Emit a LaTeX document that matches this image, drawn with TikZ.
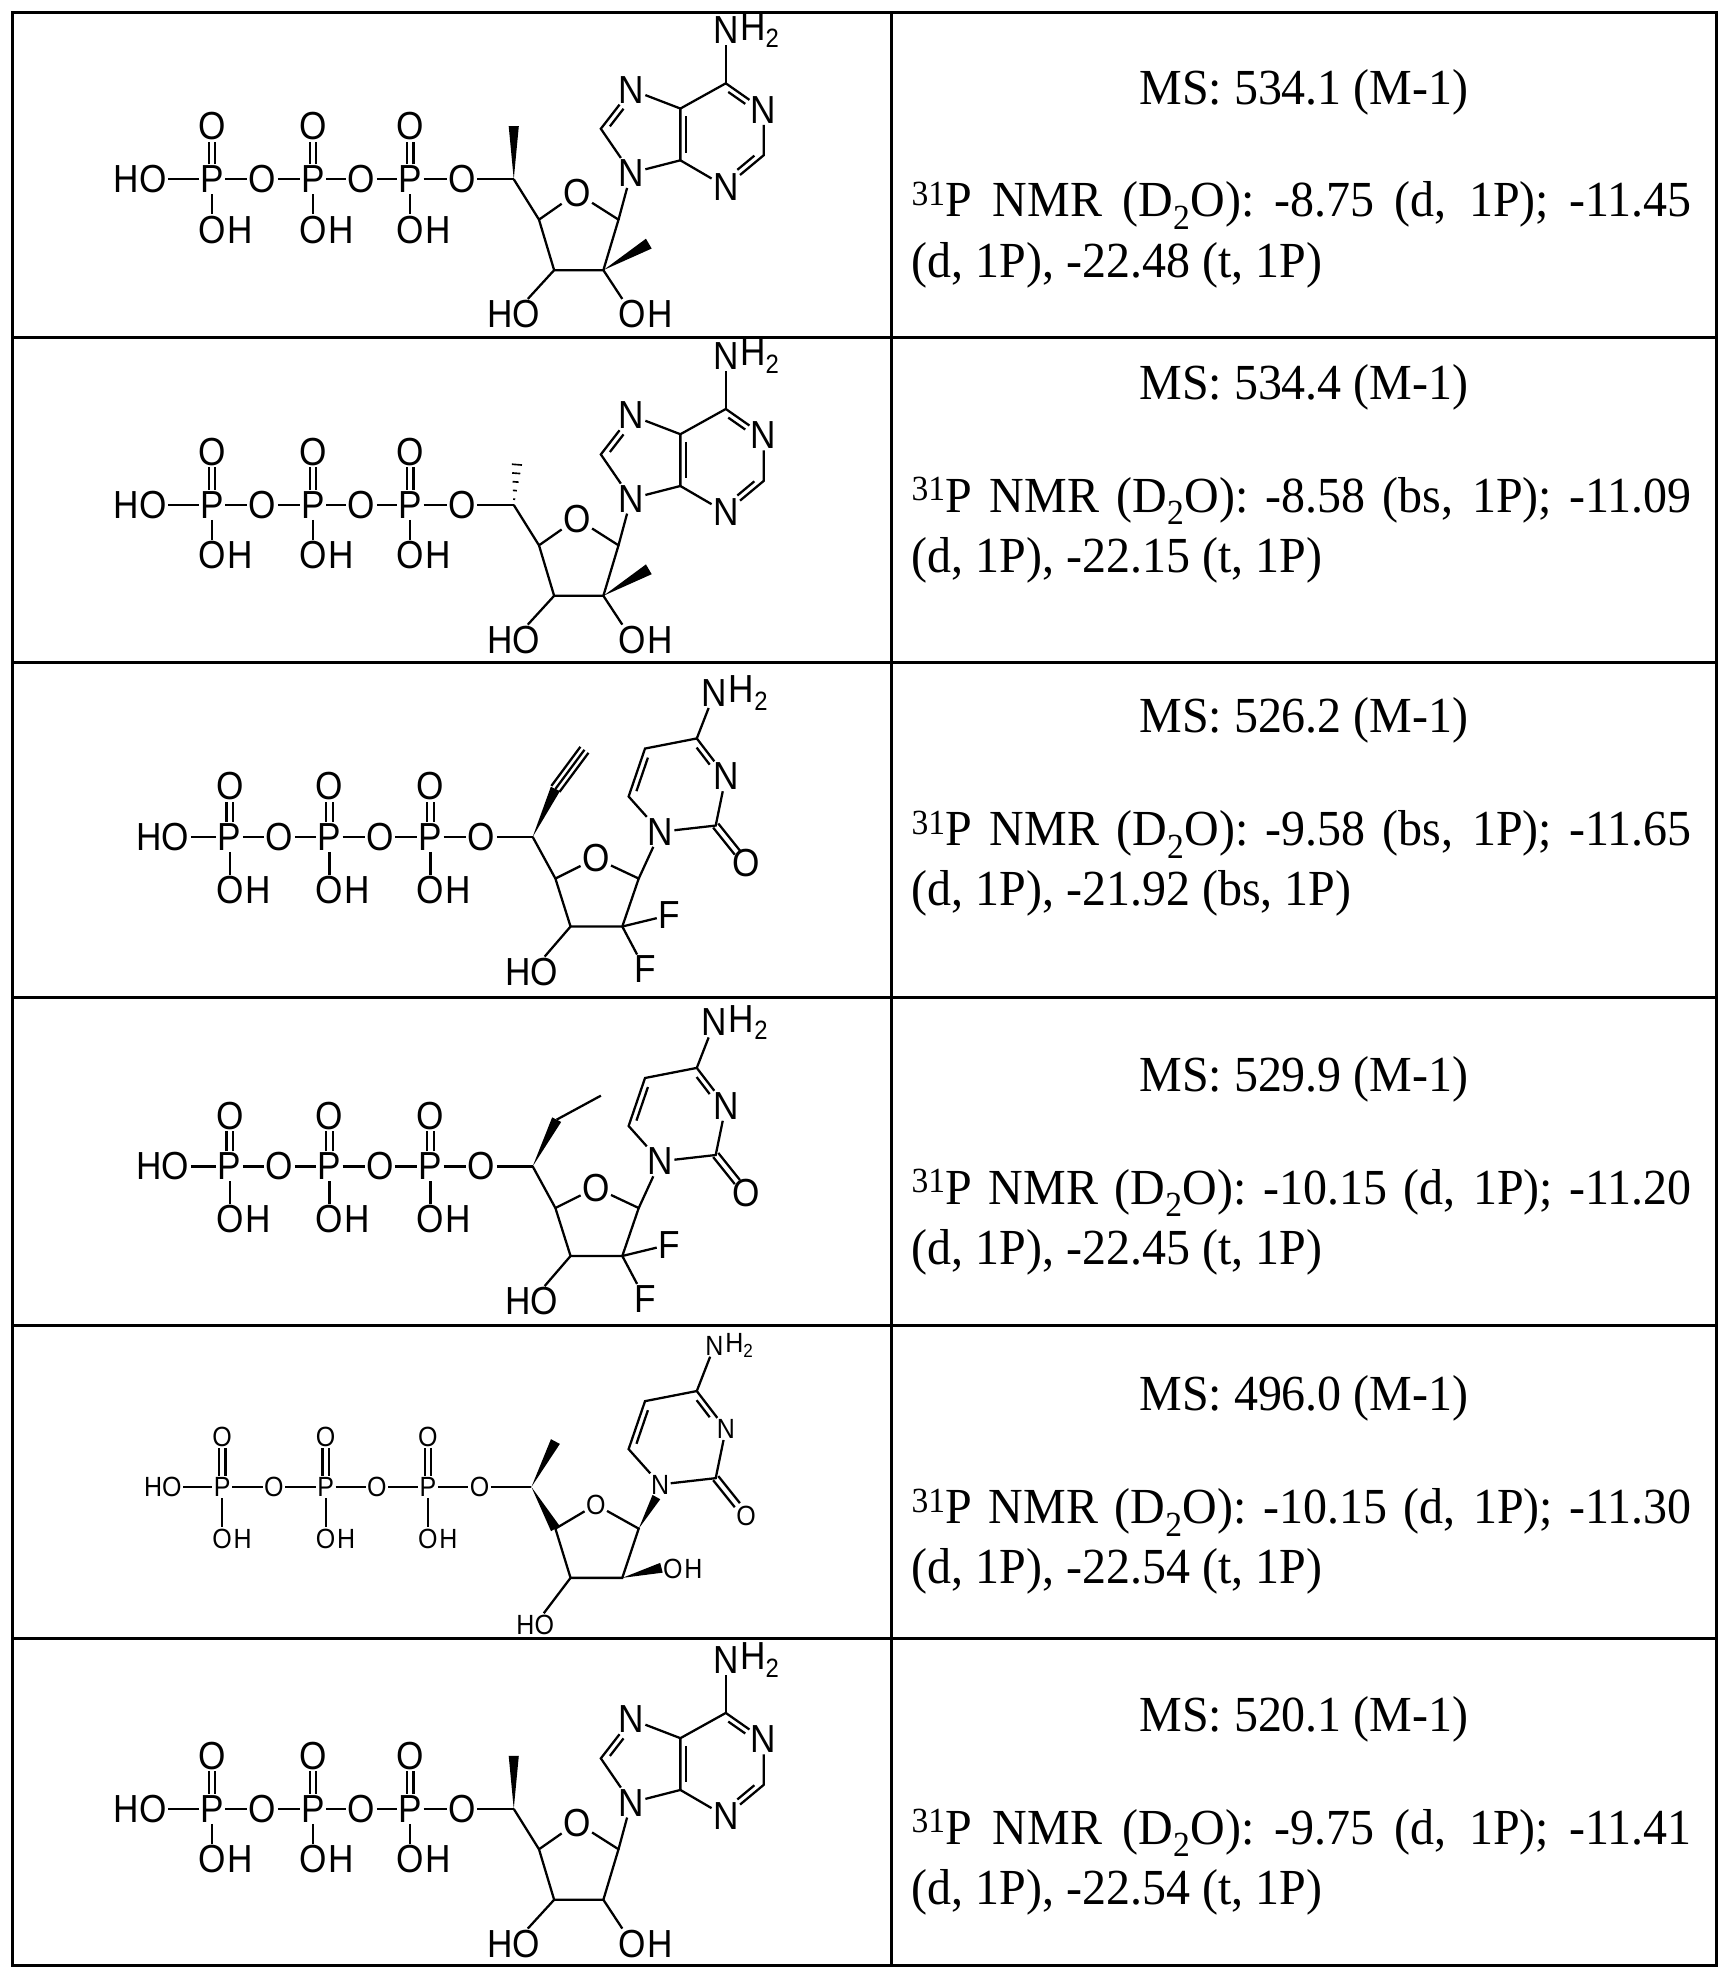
\documentclass[tikz,border=0pt]{standalone}
\usepackage{fontspec}
\setmainfont{Liberation Serif}[FakeStretch=0.95]
\newfontfamily\af{Liberation Sans}[FakeStretch=0.9]
\usetikzlibrary{calc}
\tikzset{
  atom/.style={font=\af\fontsize{31}{31}\selectfont, inner sep=1pt},
  hatom/.style={font=\af\fontsize{31}{31}\selectfont, inner sep=0pt},
  bnd/.style={line width=1.8pt},
  grid/.style={line width=2.4pt},
  txt/.style={font=\fontsize{40}{40}\selectfont, inner sep=0pt}
}
\newcommand\wdg[3]{\fill (#1) -- ($(#2)!#3!90:(#1)$) -- ($(#2)!#3!-90:(#1)$) -- cycle;}
\newcommand\hsh[2]{\foreach \t/\w in {0.12/0.8pt,0.3/1.6pt,0.48/2.4pt,0.66/3.2pt,0.84/4pt,1/4.8pt}{\draw[line width=1.3pt] ($(#1)!\t!(#2)!\w!90:(#2)$) -- ($(#1)!\t!(#2)!\w!-90:(#2)$);}}
\newcommand\dbl[6]{\draw[bnd] ($(#1)!#5!(#2)!4.5pt!#3:(#2)$) -- ($(#2)!#6!(#1)!4.5pt!#4:(#1)$);}
% phosphate chain: y, yO, yOH, xHO, xP1, xP2, xP3, xC5
\newcommand\phos[8]{
  \node[atom] (ho) at (#4,#1) {HO};
  \node[atom] (p1) at (#5,#1) {P};
  \node[atom] (p2) at (#6,#1) {P};
  \node[atom] (p3) at (#7,#1) {P};
  \coordinate (c5) at (#8,#1);
  \node[atom] (o1) at ($(p1)!.5!(p2)$) {O};
  \node[atom] (o2) at ($(p2)!.5!(p3)$) {O};
  \node[atom] (o3) at ($(p3)!.5!(c5)$) {O};
  \draw[bnd] (ho)--(p1)--(o1)--(p2)--(o2)--(p3)--(o3)--(c5);
  \foreach \p in {p1,p2,p3}{
    \node[atom] (t\p) at (\p |- 0,#2) {O};
    \node[atom] (h\p) at (\p |- 0,#3) {O};
    \node[hatom,anchor=west] at (h\p.east) {H};
    \draw[bnd] (\p)--(h\p);
    \draw[bnd] ([xshift=-2.6pt]\p.north)--([xshift=-2.6pt]t\p.south);
    \draw[bnd] ([xshift=2.6pt]\p.north)--([xshift=2.6pt]t\p.south);
  }
}
\newcommand\subtwo{\raisebox{-0.35ex}{\fontsize{21}{21}\selectfont 2}}
% adenosine (row 1 coordinates)
\newcommand\ado{
  \coordinate (c4) at (427,174); \node[atom] (o4) at (457,153) {O};
  \coordinate (c1) at (490,174); \coordinate (c2) at (478,214); \coordinate (c3) at (439,214);
  \node[atom] (hoa) at (407,249) {HO}; \node[atom] (oha) at (501,249) {O};
  \node[hatom,anchor=west] at (oha.east) {H};
  \draw[bnd] (c5)--(c4)--(o4)--(c1)--(c2)--(c3)--(c4);
  \draw[bnd] (c3)--(hoa); \draw[bnd] (c2)--(oha);
  \node[atom] (n9) at (500,137) {N}; \coordinate (c8) at (476,102);
  \node[atom] (n7) at (500,71) {N}; \coordinate (c5b) at (539,86); \coordinate (c4b) at (539,127);
  \coordinate (c6) at (575,66); \node[atom] (n1) at (605,87) {N};
  \coordinate (c2b) at (605,123); \node[atom] (n3) at (575,148) {N};
  \node[atom] (nh) at (575,24) {N}; \node[hatom,anchor=west] at (nh.east) {H\subtwo};
  \draw[bnd] (c1)--(n9)--(c8)--(n7)--(c5b)--(c4b)--(n9);
  \draw[bnd] (c5b)--(c6)--(n1)--(c2b)--(n3)--(c4b);
  \draw[bnd] (c6)--(nh);
  \dbl{c8}{n7}{-90}{90}{.15}{.4}
  \dbl{c5b}{c4b}{90}{-90}{.15}{.15}
  \dbl{c6}{n1}{-90}{90}{.15}{.4}
  \dbl{c2b}{n3}{-90}{90}{.15}{.4}
}
% cytosine base (row 3 coordinates)
\newcommand\cyt{
  \node[atom] (n1) at (523,659) {N};
  \coordinate (c6) at (498,631); \coordinate (c5b) at (511,593); \coordinate (c4b) at (552,585);
  \node[atom] (n3) at (575,615) {N}; \coordinate (c2b) at (567,654);
  \node[atom] (ob) at (591,684) {O};
  \node[atom] (nh) at (566,549) {N}; \node[hatom,anchor=west] at (nh.east) {H\subtwo};
  \draw[bnd] (n1)--(c6)--(c5b)--(c4b)--(n3)--(c2b)--(n1);
  \draw[bnd] (c4b)--(nh);
  \draw[bnd,shorten >=11pt] ($(c2b)!2.6pt!90:(ob)$) -- ($(ob)!2.6pt!-90:(c2b)$);
  \draw[bnd,shorten >=11pt] ($(c2b)!2.6pt!-90:(ob)$) -- ($(ob)!2.6pt!90:(c2b)$);
  \dbl{c6}{c5b}{-90}{90}{.15}{.15}
  \dbl{c4b}{n3}{-90}{90}{.15}{.4}
}
\newcommand\difsugar{
  \coordinate (c4) at (440,696); \node[atom] (o4) at (472,680) {O};
  \coordinate (c1) at (506,696); \coordinate (c2) at (493,734); \coordinate (c3) at (452,734);
  \node[atom] (hoa) at (421,770) {HO};
  \node[atom] (f1) at (530,725) {F}; \node[atom] (f2) at (511,768) {F};
  \draw[bnd] (c5)--(c4)--(o4)--(c1)--(c2)--(c3)--(c4);
  \draw[bnd] (c3)--(hoa); \draw[bnd] (c2)--(f1); \draw[bnd] (c2)--(f2);
  \draw[bnd] (c1)--(n1);
}
\begin{document}
\begin{tikzpicture}[x=1pt,y=-1pt]
\useasboundingbox (0,0) rectangle (1366,1567);
\fill[white] (0,0) rectangle (1366,1567);
% grid
\draw[grid] (10,10) rectangle (1360,1557);
\draw[grid] (706,10) -- (706,1557);
\foreach \yy in {267,525,790,1050,1298}{\draw[grid] (10,\yy) -- (1360,\yy);}
% ---- row 1
\phos{142}{100}{182}{111}{168}{248}{325}{407}
\coordinate (m1) at (407,100); \wdg{c5}{m1}{4pt}
\ado
\coordinate (m2) at (514,193); \wdg{c2}{m2}{4.5pt}
% ---- row 2
\begin{scope}[shift={(0,258)}]
\phos{142}{100}{182}{111}{168}{248}{325}{407}
\coordinate (m1) at (410,104); \hsh{c5}{m1}
\ado
\coordinate (m2) at (514,193); \wdg{c2}{m2}{4.5pt}
\end{scope}
% ---- row 3
\phos{663}{623}{705}{129}{182}{261}{341}{422}
\cyt
\difsugar
\coordinate (a1) at (440,625); \coordinate (a2) at (463,594);
\wdg{c5}{a1}{4pt}
\draw[bnd] (a1)--(a2);
\draw[bnd] ($(a1)!4pt!90:(a2)$)--($(a2)!4pt!-90:(a1)$);
\draw[bnd] ($(a1)!4pt!-90:(a2)$)--($(a2)!4pt!90:(a1)$);
% ---- row 4
\begin{scope}[shift={(0,261)}]
\phos{663}{623}{705}{129}{182}{261}{341}{422}
\cyt
\difsugar
\coordinate (a1) at (441,626); \coordinate (a2) at (476,607);
\wdg{c5}{a1}{4pt}
\draw[bnd] (a1)--(a2);
\end{scope}
% ---- row 5
\begin{scope}[atom/.style={font=\af\fontsize{22}{22}\selectfont, inner sep=1pt},
  hatom/.style={font=\af\fontsize{22}{22}\selectfont, inner sep=0pt}]
\phos{1178}{1138}{1219}{129}{176}{258}{339}{421}
\begin{scope}[shift={(0,517)}]
\renewcommand\subtwo{\raisebox{-0.35ex}{\fontsize{15}{15}\selectfont 2}}
\cyt
\end{scope}
\coordinate (c4) at (440,1211); \node[atom] (o4) at (472,1192) {O};
\coordinate (c1) at (506,1211); \coordinate (c2) at (493,1250); \coordinate (c3) at (452,1250);
\node[atom] (hoa) at (424,1287) {HO};
\node[atom] (oh6) at (533,1243) {O}; \node[hatom,anchor=west] at (oh6.east) {H};
\coordinate (m1) at (440,1142); \wdg{c5}{m1}{4pt}
\wdg{c5}{c4}{4pt}
\draw[bnd] (c4)--(o4)--(c1)--(c2)--(c3)--(c4);
\draw[bnd] (c3)--(hoa);
\coordinate (w2) at (524,1242); \wdg{c2}{w2}{4pt}
\coordinate (w1) at (520,1186); \wdg{c1}{w1}{3.5pt}
\end{scope}
% ---- row 6
\begin{scope}[shift={(0,1291)}]
\phos{142}{100}{182}{111}{168}{248}{325}{407}
\coordinate (m1) at (407,100); \wdg{c5}{m1}{4pt}
\ado
\end{scope}
% ---- right column
\foreach \top/\ms/\la/\lb [count=\i] in {
  73/{MS: 534.1 (M-1)}/{\textsuperscript{31}P NMR (D\textsubscript{2}O): -8.75 (d, 1P); -11.45}/{(d, 1P), -22.48 (t, 1P)},
  307/{MS: 534.4 (M-1)}/{\textsuperscript{31}P NMR (D\textsubscript{2}O): -8.58 (bs, 1P); -11.09}/{(d, 1P), -22.15 (t, 1P)},
  571/{MS: 526.2 (M-1)}/{\textsuperscript{31}P NMR (D\textsubscript{2}O): -9.58 (bs, 1P); -11.65}/{(d, 1P), -21.92 (bs, 1P)},
  855/{MS: 529.9 (M-1)}/{\textsuperscript{31}P NMR (D\textsubscript{2}O): -10.15 (d, 1P); -11.20}/{(d, 1P), -22.45 (t, 1P)},
  1108/{MS: 496.0 (M-1)}/{\textsuperscript{31}P NMR (D\textsubscript{2}O): -10.15 (d, 1P); -11.30}/{(d, 1P), -22.54 (t, 1P)},
  1362/{MS: 520.1 (M-1)}/{\textsuperscript{31}P NMR (D\textsubscript{2}O): -9.75 (d, 1P); -11.41}/{(d, 1P), -22.54 (t, 1P)}}{
  \node[txt] (ms\i) at (1033,\top) {\ms};
  \node[txt,anchor=west] (la\i) at (722,\top+90) {\makebox[618pt][s]{\la}};
  \node[txt,anchor=west] (lb\i) at (722,\top+137) {\lb};
}
\end{tikzpicture}
\end{document}
